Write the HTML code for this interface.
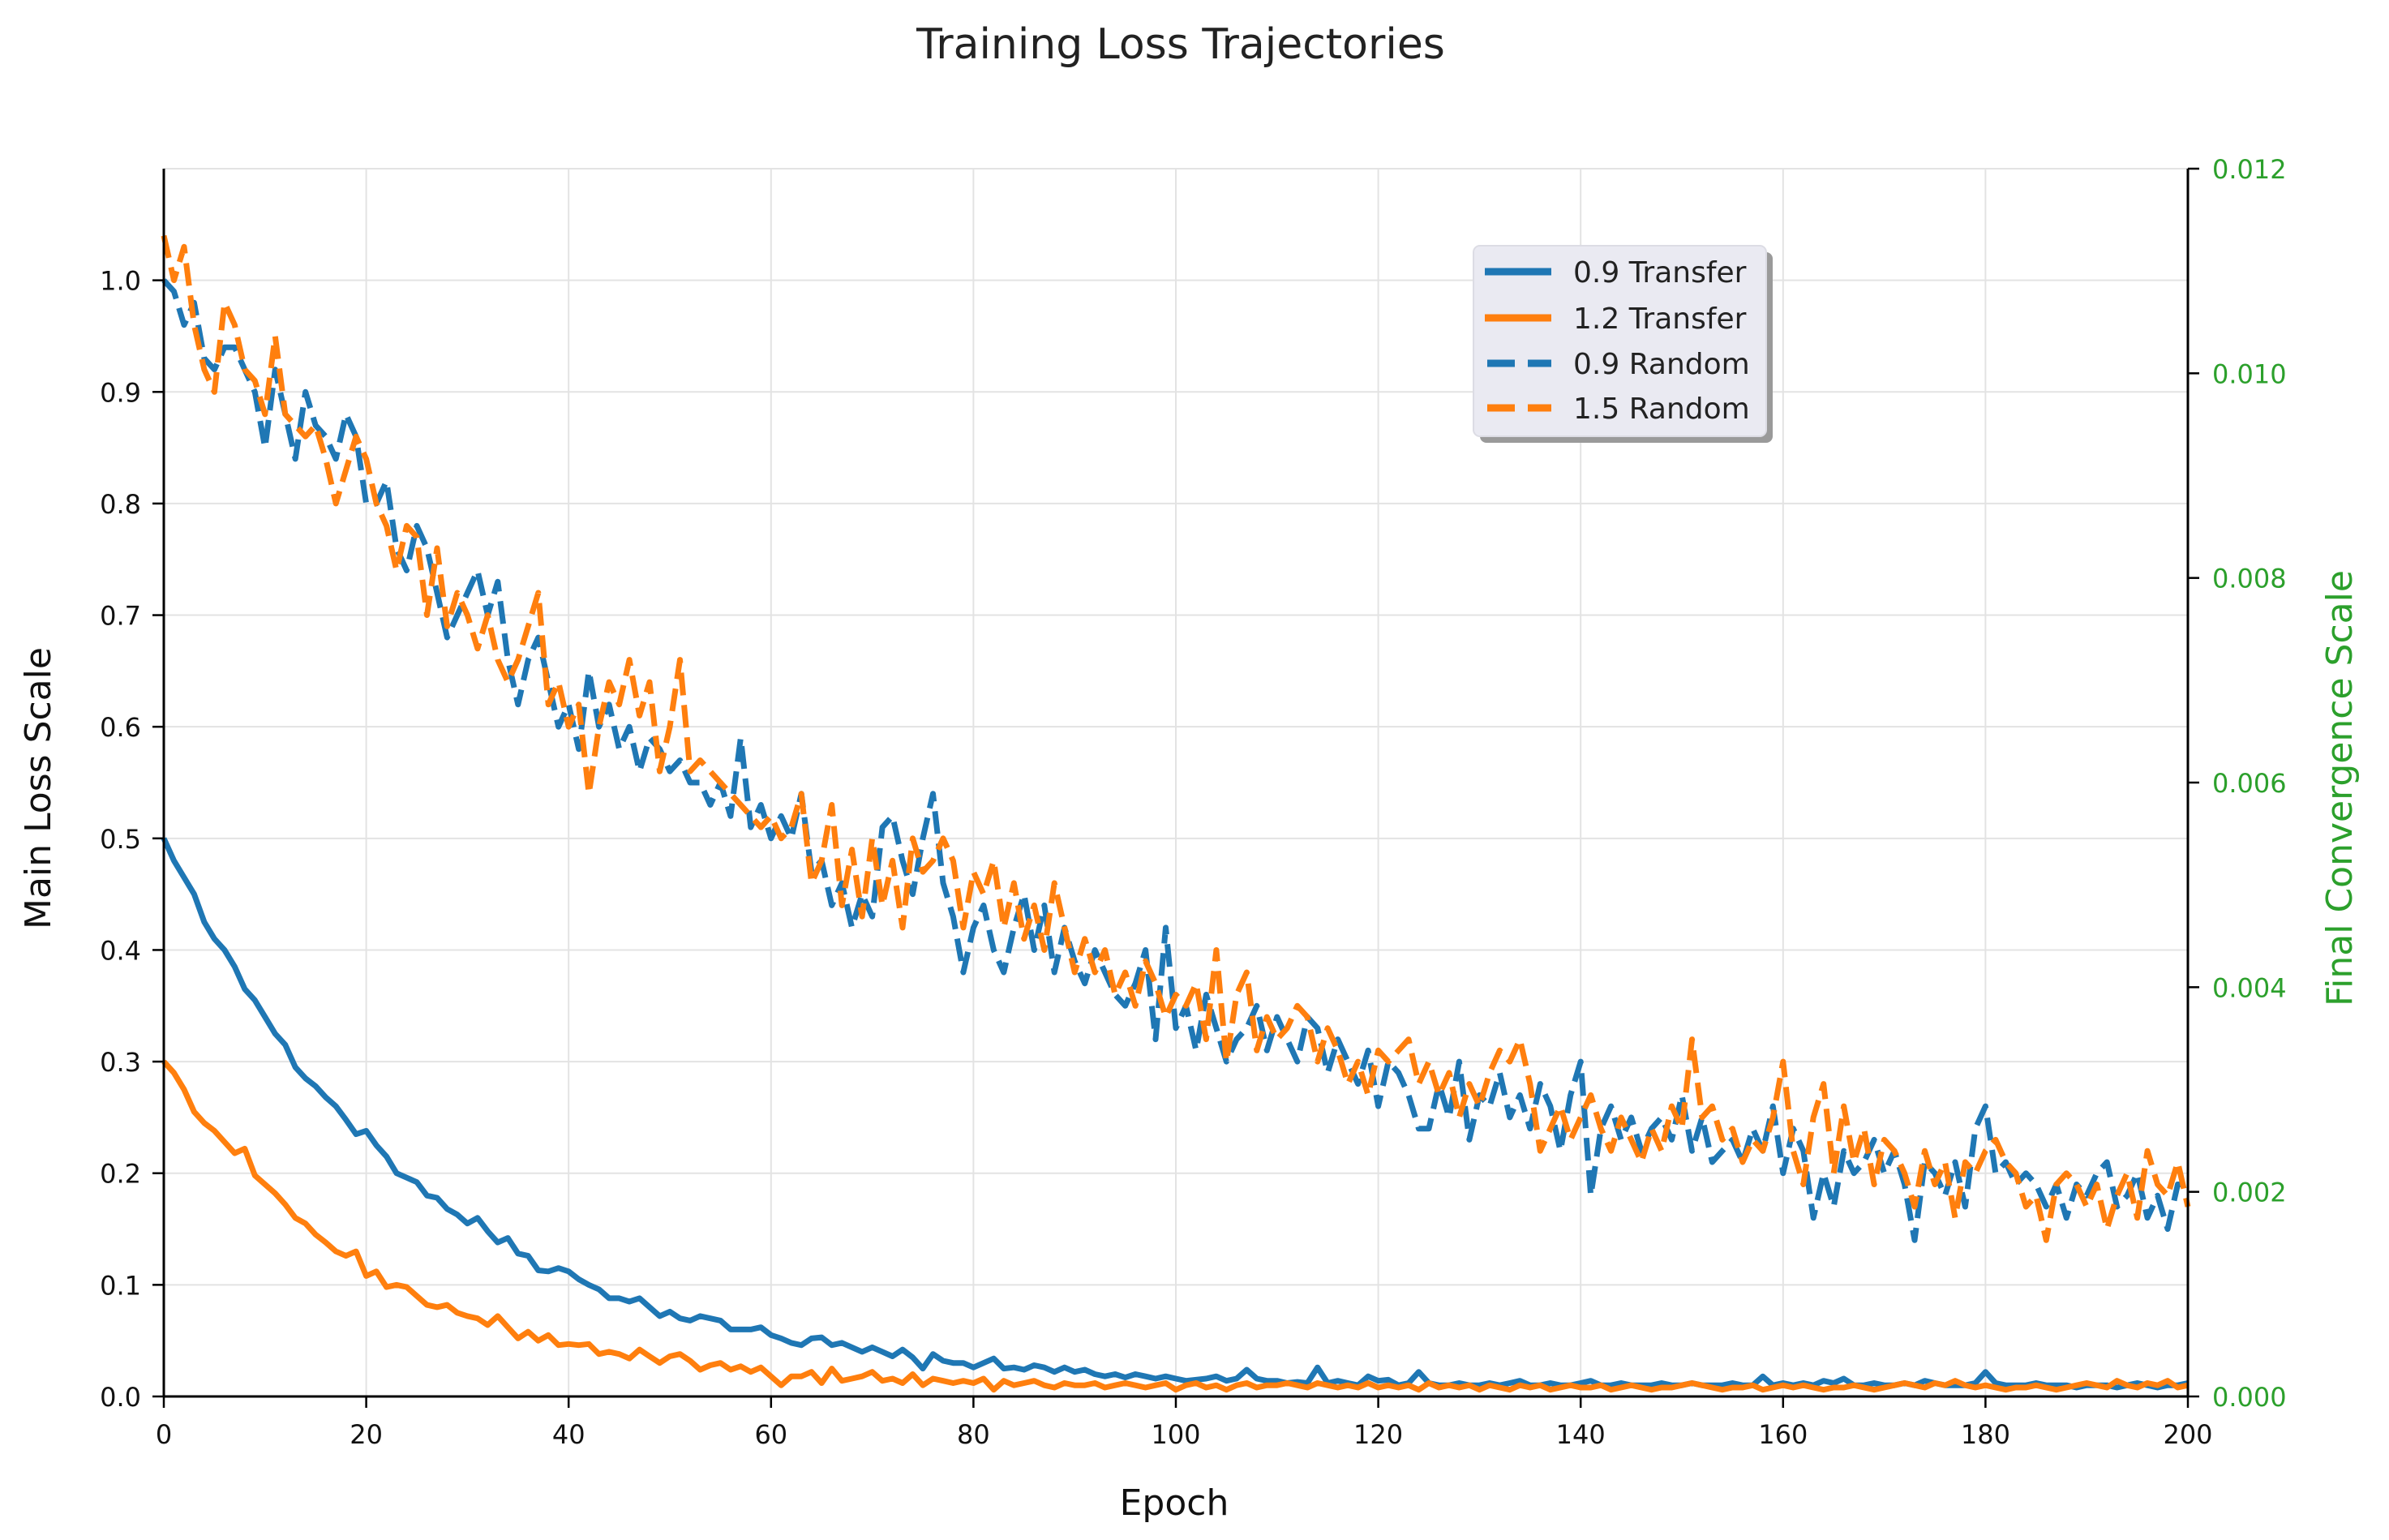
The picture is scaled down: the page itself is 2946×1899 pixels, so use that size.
<!DOCTYPE html>
<html><head><meta charset="utf-8"><style>
html,body{margin:0;padding:0;background:#fff;}
svg{display:block;font-family:"DejaVu Sans","Liberation Sans",sans-serif;}
</style></head><body>
<svg id="chart" width="2946" height="1899" viewBox="0 0 2946 1899" xmlns="http://www.w3.org/2000/svg">
<rect width="2946" height="1899" fill="#fff"/>
<text x="1456" y="72" font-size="52" text-anchor="middle" fill="#222">Training Loss Trajectories</text>
<g id="grid"></g>
<g id="series"></g>
<g id="axes"></g>
<text x="1448" y="1868" font-size="44" text-anchor="middle" fill="#111">Epoch</text>
<text transform="translate(62,972) rotate(-90)" font-size="44" text-anchor="middle" fill="#111">Main Loss Scale</text>
<text transform="translate(2900,972) rotate(-90)" font-size="44" text-anchor="middle" fill="#2ca02c">Final Convergence Scale</text>
<g id="legend">
<rect x="1825" y="311" width="361" height="235" rx="8" fill="#9a9a9a"/>
<rect x="1817" y="303" width="361" height="235" rx="8" fill="#eaeaf2" stroke="#dcdce4" stroke-width="2"/>
<line x1="1831" y1="335" x2="1913" y2="335" stroke="#1f77b4" stroke-width="9"/>
<text x="1940" y="348" font-size="36" fill="#222">0.9 Transfer</text>
<line x1="1831" y1="392" x2="1913" y2="392" stroke="#ff7f0e" stroke-width="9"/>
<text x="1940" y="405" font-size="36" fill="#222">1.2 Transfer</text>
<line x1="1834" y1="448" x2="1913" y2="448" stroke="#1f77b4" stroke-width="9" stroke-dasharray="34,16"/>
<text x="1940" y="461" font-size="36" fill="#222">0.9 Random</text>
<line x1="1834" y1="503" x2="1913" y2="503" stroke="#ff7f0e" stroke-width="9" stroke-dasharray="34,16"/>
<text x="1940" y="516" font-size="36" fill="#222">1.5 Random</text>
</g>
</svg>
<script>
const xTicks=[0,20,40,60,80,100,120,140,160,180,200];
const yTicks=[0.0,0.1,0.2,0.3,0.4,0.5,0.6,0.7,0.8,0.9,1.0];
const y2Ticks=[0.000,0.002,0.004,0.006,0.008,0.010,0.012];
const transfer09=[.500,.480,.465,.450,.425,.410,.400,.385,.365,.355,.340,
.325,.315,.295,.285,.278,.268,.260,.248,.235,.238,
.225,.215,.200,.196,.192,.180,.178,.168,.163,.155,
.160,.148,.138,.142,.128,.126,.113,.112,.115,.112,
.105,.100,.096,.088,.088,.085,.088,.080,.072,.076,
.070,.068,.072,.070,.068,.060,.060,.060,.062,.055,
.052,.048,.046,.052,.053,.046,.048,.044,.040,.044,
.040,.036,.042,.035,.025,.038,.032,.030,.030,.026,
.030,.034,.025,.026,.024,.028,.026,.022,.026,.022,
.024,.020,.018,.020,.017,.020,.018,.016,.018,.016,
.014,.015,.016,.018,.014,.016,.024,.016,.014,.014,
.012,.013,.012,.026,.012,.014,.012,.010,.018,.014,
.015,.010,.012,.022,.012,.010,.010,.012,.010,.010,
.012,.010,.012,.014,.010,.010,.012,.010,.010,.012,
.014,.010,.010,.012,.010,.010,.010,.012,.010,.010,
.012,.010,.010,.010,.012,.010,.010,.018,.010,.012,
.010,.012,.010,.014,.012,.016,.010,.010,.012,.010,
.010,.012,.010,.014,.012,.010,.010,.010,.012,.022,
.012,.010,.010,.010,.012,.010,.010,.010,.008,.010,
.010,.010,.008,.010,.012,.010,.008,.010,.010,.012];
const transfer12=[.300,.290,.275,.255,.245,.238,.228,.218,.222,.198,.190,
.182,.172,.160,.155,.145,.138,.130,.126,.130,.108,
.112,.098,.100,.098,.090,.082,.080,.082,.075,.072,
.070,.064,.072,.062,.052,.058,.050,.055,.046,.047,
.046,.047,.038,.040,.038,.034,.042,.036,.030,.036,
.038,.032,.024,.028,.030,.024,.027,.022,.026,.018,
.010,.018,.018,.022,.012,.025,.014,.016,.018,.022,
.014,.016,.012,.020,.010,.016,.014,.012,.014,.012,
.016,.006,.014,.010,.012,.014,.010,.008,.012,.010,
.010,.012,.008,.010,.012,.010,.008,.010,.012,.006,
.010,.012,.008,.010,.006,.010,.012,.008,.010,.010,
.012,.010,.008,.012,.010,.008,.010,.008,.012,.008,
.010,.008,.010,.006,.012,.008,.010,.008,.010,.006,
.010,.008,.006,.010,.008,.010,.006,.008,.010,.008,
.008,.010,.006,.008,.010,.008,.006,.008,.008,.010,
.012,.010,.008,.006,.008,.008,.010,.006,.008,.010,
.008,.010,.008,.006,.008,.008,.010,.008,.006,.008,
.010,.012,.010,.008,.012,.010,.014,.010,.008,.010,
.008,.006,.008,.008,.010,.008,.006,.008,.010,.012,
.010,.008,.014,.010,.008,.012,.010,.014,.008,.010];
const random09=[1.00,.99,.96,.98,.93,.92,.94,.94,.92,.90,.85,
.92,.88,.84,.90,.87,.86,.84,.88,.86,.80,
.80,.82,.76,.74,.78,.76,.72,.68,.70,.72,
.74,.70,.73,.66,.62,.66,.68,.64,.60,.62,
.58,.65,.60,.62,.58,.60,.56,.59,.58,.56,
.57,.55,.55,.53,.55,.52,.59,.51,.53,.50,
.52,.50,.54,.47,.48,.44,.46,.42,.45,.43,
.51,.52,.48,.45,.50,.54,.46,.43,.38,.42,
.44,.40,.38,.42,.45,.40,.44,.38,.42,.39,
.37,.40,.38,.36,.35,.37,.40,.32,.42,.33,
.35,.31,.36,.33,.30,.32,.33,.35,.31,.34,
.32,.30,.34,.33,.29,.32,.30,.28,.31,.26,
.30,.29,.27,.24,.24,.28,.25,.30,.23,.27,
.26,.29,.25,.27,.24,.28,.26,.22,.27,.30,
.18,.24,.26,.23,.25,.22,.24,.25,.23,.27,
.22,.25,.21,.22,.23,.21,.24,.22,.26,.20,
.24,.22,.16,.20,.17,.22,.20,.21,.23,.20,
.22,.19,.14,.21,.20,.18,.21,.17,.24,.26,
.20,.21,.19,.20,.19,.17,.19,.16,.19,.18,
.20,.21,.17,.18,.20,.16,.18,.15,.19,.19];
const random15=[1.04,1.0,1.03,.96,.92,.90,.98,.96,.92,.91,.88,
.95,.88,.87,.86,.87,.84,.80,.83,.86,.84,
.80,.78,.74,.78,.77,.70,.76,.69,.72,.70,
.67,.70,.66,.64,.66,.69,.72,.62,.64,.60,
.62,.54,.60,.64,.62,.66,.61,.64,.56,.60,
.66,.56,.57,.56,.55,.54,.53,.52,.51,.52,
.50,.51,.54,.46,.48,.53,.44,.49,.43,.50,
.44,.48,.42,.50,.47,.48,.50,.48,.42,.47,
.45,.48,.42,.46,.41,.44,.40,.46,.42,.38,
.41,.38,.40,.36,.38,.35,.39,.37,.34,.36,
.35,.37,.32,.40,.30,.36,.38,.31,.34,.32,
.33,.35,.34,.30,.33,.31,.28,.30,.27,.31,
.30,.31,.32,.28,.30,.27,.29,.25,.28,.26,
.29,.31,.30,.32,.28,.22,.24,.26,.23,.25,
.27,.24,.22,.25,.23,.21,.24,.22,.26,.24,
.32,.25,.26,.23,.24,.21,.23,.22,.25,.30,
.22,.19,.25,.28,.20,.26,.21,.24,.19,.23,
.22,.20,.17,.22,.19,.21,.16,.21,.20,.22,
.23,.21,.20,.17,.18,.14,.19,.20,.19,.17,
.19,.15,.18,.20,.16,.22,.19,.18,.21,.17];

const NS="http://www.w3.org/2000/svg";
const X0=202,X1=2698,Y0=1722,YTOP=208;
const xMax=200,yMax=1.1,y2Max=0.012;
function xs(v){return X0+(X1-X0)*v/xMax;}
function ys(v){return Y0-(Y0-YTOP)*v/yMax;}
function ys2(v){return Y0-(Y0-YTOP)*v/y2Max;}
function mk(tag,attrs,parent){const e=document.createElementNS(NS,tag);for(const k in attrs)e.setAttribute(k,attrs[k]);parent.appendChild(e);return e;}
const grid=document.getElementById('grid'),axes=document.getElementById('axes'),series=document.getElementById('series');

xTicks.forEach(t=>{
  const g=mk('line',{x1:xs(t),x2:xs(t),y1:YTOP,y2:Y0,stroke:'#e3e3e3','stroke-width':2},grid);
  
  
  const tk=mk('line',{x1:xs(t),x2:xs(t),y1:Y0,y2:Y0+14,stroke:'#000','stroke-width':2.5},axes);
  
  
  const lb=mk('text',{x:xs(t),y:Y0+58,'font-size':32,'text-anchor':'middle',fill:'#111'},axes);
  lb.textContent=String(t);
  
  
});
mk('line',{x1:X0,x2:X1,y1:YTOP,y2:YTOP,stroke:'#e3e3e3','stroke-width':2},grid);
yTicks.forEach(t=>{
  const g=mk('line',{x1:X0,x2:X1,y1:ys(t),y2:ys(t),stroke:'#e3e3e3','stroke-width':2},grid);
  
  
  const tk=mk('line',{x1:X0-14,x2:X0,y1:ys(t),y2:ys(t),stroke:'#000','stroke-width':2.5},axes);
  
  
  const lb=mk('text',{x:X0-28,y:ys(t)+12,'font-size':32,'text-anchor':'end',fill:'#111'},axes);
  lb.textContent=t.toFixed(1);
  
  
});
y2Ticks.forEach(t=>{
  const tk=mk('line',{x1:X1,x2:X1+14,y1:ys2(t),y2:ys2(t),stroke:'#000','stroke-width':2.5},axes);
  
  
  const lb=mk('text',{x:X1+30,y:ys2(t)+12,'font-size':32,'text-anchor':'start',fill:'#2ca02c'},axes);
  lb.textContent=t.toFixed(3);
  
  
});
const spL=mk('line',{x1:X0,x2:X0,y1:YTOP,y2:Y0,stroke:'#000','stroke-width':3},axes);


const spB=mk('line',{x1:X0,x2:X1,y1:Y0,y2:Y0,stroke:'#000','stroke-width':3},axes);


const spR=mk('line',{x1:X1,x2:X1,y1:YTOP,y2:Y0,stroke:'#000','stroke-width':3},axes);



function drawLine(arr,color,dash,name){
  const d=arr.map((v,i)=>(i?'L':'M')+xs(i).toFixed(1)+' '+ys(v).toFixed(1)).join(' ');
  const p=mk('path',{d:d,fill:'none',stroke:color,'stroke-width':7,'stroke-linejoin':'round','stroke-linecap':'butt'},series);
  if(dash)p.setAttribute('stroke-dasharray','28,12');
  
  
}
drawLine(random09,'#1f77b4',true,'line-0.9-random');
drawLine(random15,'#ff7f0e',true,'line-1.5-random');
drawLine(transfer09,'#1f77b4',false,'line-0.9-transfer');
drawLine(transfer12,'#ff7f0e',false,'line-1.2-transfer');
</script>
</body></html>
